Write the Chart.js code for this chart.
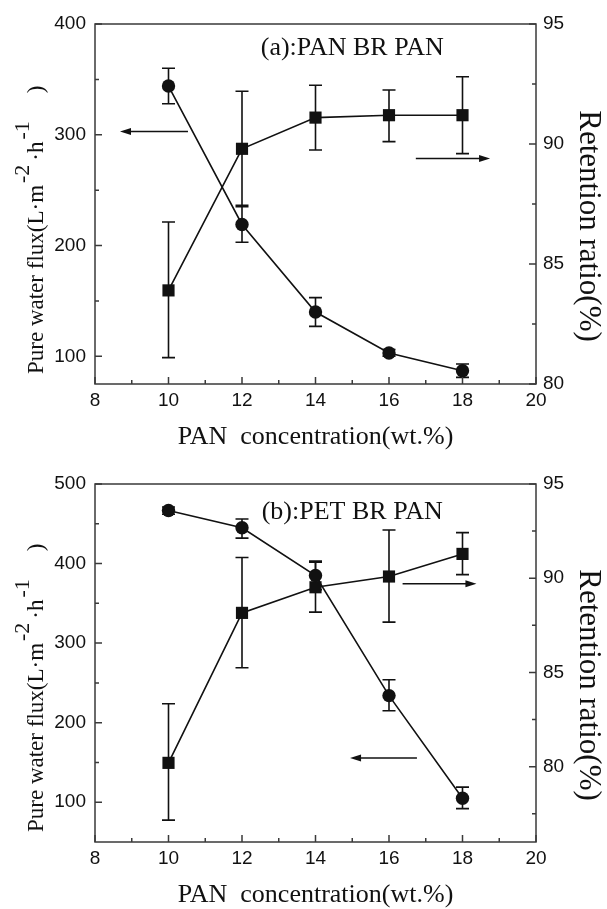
<!DOCTYPE html>
<html>
<head>
<meta charset="utf-8">
<script src="https://cdn.jsdelivr.net/npm/chart.js@4.4.1/dist/chart.umd.min.js"></script>
<style>
  html, body { margin: 0; padding: 0; background: #fff; }
  .panel { position: absolute; left: 0; }
  canvas { display: block; }
</style>
</head>
<body>
<div class="panel" style="top:0"><canvas id="chartA" width="607" height="460"></canvas></div>
<div class="panel" style="top:460px"><canvas id="chartB" width="607" height="449"></canvas></div>
<script>
// x 轴：PAN 浓度 (wt.%)
const concentration = [10, 12, 14, 16, 18];
const xTicks = [8, 10, 12, 14, 16, 18, 20];
const xMinor = [9, 11, 13, 15, 17, 19];

// (a) PAN BR PAN —— 通量(左轴) + 截留率(右轴)
const fluxA    = [344, 219, 140, 103, 87];
const fluxA_lo = [328, 203, 127, 100, 81];
const fluxA_hi = [360, 235, 153, 106, 93];
const retA     = [83.9, 89.8, 91.1, 91.2, 91.2];
const retA_lo  = [81.1, 87.45, 89.75, 90.1, 89.6];
const retA_hi  = [86.75, 92.2, 92.45, 92.25, 92.8];
const leftTicksA  = [100, 200, 300, 400];
const leftMinorA  = [150, 250, 350];
const rightTicksA = [80, 85, 90, 95];
const rightMinorA = [82.5, 87.5, 92.5];
// 箭头：[x起点, x终点, y]
const arrowA_flux = [10.53, 8.68, 303];
const arrowA_ret  = [16.73, 18.75, 89.4];

// (b) PET BR PAN
const fluxB    = [466.6, 445, 385, 234, 105];
const fluxB_lo = [462, 432, 367, 215, 92];
const fluxB_hi = [471, 456, 403, 254, 119];
const retB     = [80.2, 88.16, 89.52, 90.09, 91.29];
const retB_lo  = [77.16, 85.25, 88.2, 87.67, 90.19];
const retB_hi  = [83.34, 91.1, 90.85, 92.56, 92.42];
const leftTicksB  = [100, 200, 300, 400, 500];
const leftMinorB  = [150, 250, 350, 450];
const rightTicksB = [80, 85, 90, 95];
const rightMinorB = [77.5, 82.5, 87.5, 92.5];
const arrowB_flux = [16.76, 14.94, 155.6];
const arrowB_ret  = [16.37, 18.38, 89.7];

const SERIF = "'Liberation Serif', 'Times New Roman', serif";
const SANS  = "'Liberation Sans', Arial, sans-serif";
const INK = '#111';
const AXIS = '#3a3a3a';

// 左轴标题带上标，自己画
const yTitleParts = [
  { t: 'Pure water flux(L·m', sup: false },
  { t: '-2', sup: true },
  { t: '·h', sup: false },
  { t: '-1', sup: true },
  { t: ')', sup: false, gap: 24 }
];

function makeDecor(cfg) {
  return {
    id: 'decor' + cfg.tag,
    beforeDatasetsDraw(chart) {
      // 误差棒
      const ctx = chart.ctx, xs = chart.scales.x;
      ctx.save();
      ctx.strokeStyle = INK;
      ctx.lineWidth = 1.6;
      cfg.errors.forEach(e => {
        const ys = chart.scales[e.axis];
        concentration.forEach((c, i) => {
          const px = xs.getPixelForValue(c);
          const y1 = ys.getPixelForValue(e.lo[i]);
          const y2 = ys.getPixelForValue(e.hi[i]);
          ctx.beginPath();
          ctx.moveTo(px, y1); ctx.lineTo(px, y2);
          ctx.moveTo(px - 6.5, y1); ctx.lineTo(px + 6.5, y1);
          ctx.moveTo(px - 6.5, y2); ctx.lineTo(px + 6.5, y2);
          ctx.stroke();
        });
      });
      ctx.restore();
    },
    afterDraw(chart) {
      const ctx = chart.ctx;
      const { left, right, top, bottom } = chart.chartArea;
      const xs = chart.scales.x, yl = chart.scales.y, yr = chart.scales.y1;
      ctx.save();
      // 边框
      ctx.strokeStyle = AXIS;
      ctx.lineWidth = 1.5;
      ctx.strokeRect(left, top, right - left, bottom - top);
      // 向内的刻度
      ctx.beginPath();
      const tick = (vals, len, fn) => vals.forEach(v => fn(v, len));
      const xt = (v, len) => { const p = xs.getPixelForValue(v); ctx.moveTo(p, bottom); ctx.lineTo(p, bottom - len); };
      const lt = (v, len) => { const p = yl.getPixelForValue(v); ctx.moveTo(left, p); ctx.lineTo(left + len, p); };
      const rt = (v, len) => { const p = yr.getPixelForValue(v); ctx.moveTo(right, p); ctx.lineTo(right - len, p); };
      tick(xTicks, 7, xt); tick(xMinor, 4, xt);
      tick(cfg.leftTicks, 7, lt); tick(cfg.leftMinor, 4, lt);
      tick(cfg.rightTicks, 7, rt); tick(cfg.rightMinor, 4, rt);
      ctx.stroke();

      // 箭头
      ctx.strokeStyle = INK; ctx.fillStyle = INK; ctx.lineWidth = 1.5;
      cfg.arrows.forEach(a => {
        const ys = chart.scales[a.axis];
        const x1 = xs.getPixelForValue(a.v[0]), x2 = xs.getPixelForValue(a.v[1]);
        const y = ys.getPixelForValue(a.v[2]);
        const dir = Math.sign(x2 - x1);
        ctx.beginPath(); ctx.moveTo(x1, y); ctx.lineTo(x2 - dir * 8, y); ctx.stroke();
        ctx.beginPath();
        ctx.moveTo(x2, y); ctx.lineTo(x2 - dir * 11, y - 3.5); ctx.lineTo(x2 - dir * 11, y + 3.5);
        ctx.closePath(); ctx.fill();
      });

      // 图内标注
      ctx.font = '26px ' + SERIF;
      ctx.textAlign = 'center'; ctx.textBaseline = 'middle';
      ctx.fillText(cfg.label, xs.getPixelForValue(cfg.labelAt[0]), yl.getPixelForValue(cfg.labelAt[1]));

      // 左轴标题
      ctx.translate(43, bottom - 10);
      ctx.rotate(-Math.PI / 2);
      ctx.textAlign = 'left'; ctx.textBaseline = 'alphabetic';
      let pos = 0;
      yTitleParts.forEach(p => {
        pos += p.gap || 0;
        ctx.font = (p.sup ? '22px ' : '23px ') + SERIF;
        if (p.sup) pos += 2;
        ctx.fillText(p.t, pos, p.sup ? -14 : 0);
        pos += ctx.measureText(p.t).width + (p.sup ? 4 : 0);
      });
      ctx.setTransform(1, 0, 0, 1, 0, 0);

      // 右轴标题
      ctx.translate(588, (top + bottom) / 2 + 22);
      ctx.rotate(Math.PI / 2);
      ctx.font = '31px ' + SERIF;
      ctx.textAlign = 'center'; ctx.textBaseline = 'middle';
      ctx.fillText('Retention ratio(%)', 0, 0);
      ctx.restore();
    }
  };
}

function buildChart(id, cfg) {
  const pts = arr => concentration.map((c, i) => ({ x: c, y: arr[i] }));
  const tickFont = { family: SANS, size: 19 };
  const noGrid = { display: false, drawTicks: false };
  return new Chart(document.getElementById(id), {
    type: 'line',
    data: {
      datasets: [
        {
          label: 'Pure water flux', data: pts(cfg.flux), yAxisID: 'y',
          borderColor: INK, backgroundColor: INK, borderWidth: 1.6,
          pointStyle: 'circle', pointRadius: 6.7, pointBorderWidth: 0, tension: 0
        },
        {
          label: 'Retention ratio', data: pts(cfg.ret), yAxisID: 'y1',
          borderColor: INK, backgroundColor: INK, borderWidth: 1.6,
          pointStyle: 'rect', pointRadius: 8.6, pointBorderWidth: 0, tension: 0
        }
      ]
    },
    options: {
      responsive: false,
      animation: false,
      layout: { padding: { top: 24, left: 0, right: 0, bottom: 0 } },
      plugins: { legend: { display: false }, tooltip: { enabled: false } },
      scales: {
        x: {
          type: 'linear', min: 8, max: 20,
          afterBuildTicks: s => { s.ticks = xTicks.map(v => ({ value: v })); },
          afterFit: s => { s.height = cfg.xAxisH; },
          grid: noGrid, border: { display: false },
          ticks: { font: tickFont, color: INK, padding: 5, autoSkip: false, maxRotation: 0 },
          title: {
            display: true, text: 'PAN  concentration(wt.%)', color: INK,
            font: { family: SERIF, size: 26, lineHeight: 1 },
            padding: { top: 0, bottom: cfg.titlePad }
          }
        },
        y: {
          position: 'left', min: cfg.leftMin, max: cfg.leftMax,
          afterBuildTicks: s => { s.ticks = cfg.leftTicks.map(v => ({ value: v })); },
          afterFit: s => { s.width = 95; },
          grid: noGrid, border: { display: false },
          ticks: { font: tickFont, color: INK, padding: 9, autoSkip: false }
        },
        y1: {
          position: 'right', min: cfg.rightMin, max: 95,
          afterBuildTicks: s => { s.ticks = cfg.rightTicks.map(v => ({ value: v })); },
          afterFit: s => { s.width = 71; },
          grid: noGrid, border: { display: false },
          ticks: { font: tickFont, color: INK, padding: 7, autoSkip: false }
        }
      }
    },
    plugins: [makeDecor(cfg)]
  });
}

buildChart('chartA', {
  tag: 'A', flux: fluxA, ret: retA,
  leftMin: 75, leftMax: 400, rightMin: 80,
  leftTicks: leftTicksA, leftMinor: leftMinorA, rightTicks: rightTicksA, rightMinor: rightMinorA,
  errors: [
    { axis: 'y', lo: fluxA_lo, hi: fluxA_hi },
    { axis: 'y1', lo: retA_lo, hi: retA_hi }
  ],
  arrows: [{ axis: 'y', v: arrowA_flux }, { axis: 'y1', v: arrowA_ret }],
  label: '(a):PAN BR PAN', labelAt: [15, 378],
  xAxisH: 76, titlePad: 10
});

buildChart('chartB', {
  tag: 'B', flux: fluxB, ret: retB,
  leftMin: 50, leftMax: 500, rightMin: 76,
  leftTicks: leftTicksB, leftMinor: leftMinorB, rightTicks: rightTicksB, rightMinor: rightMinorB,
  errors: [
    { axis: 'y', lo: fluxB_lo, hi: fluxB_hi },
    { axis: 'y1', lo: retB_lo, hi: retB_hi }
  ],
  arrows: [{ axis: 'y', v: arrowB_flux }, { axis: 'y1', v: arrowB_ret }],
  label: '(b):PET BR PAN', labelAt: [15, 464.8],
  xAxisH: 67, titlePad: 1
});
</script>
</body>
</html>
